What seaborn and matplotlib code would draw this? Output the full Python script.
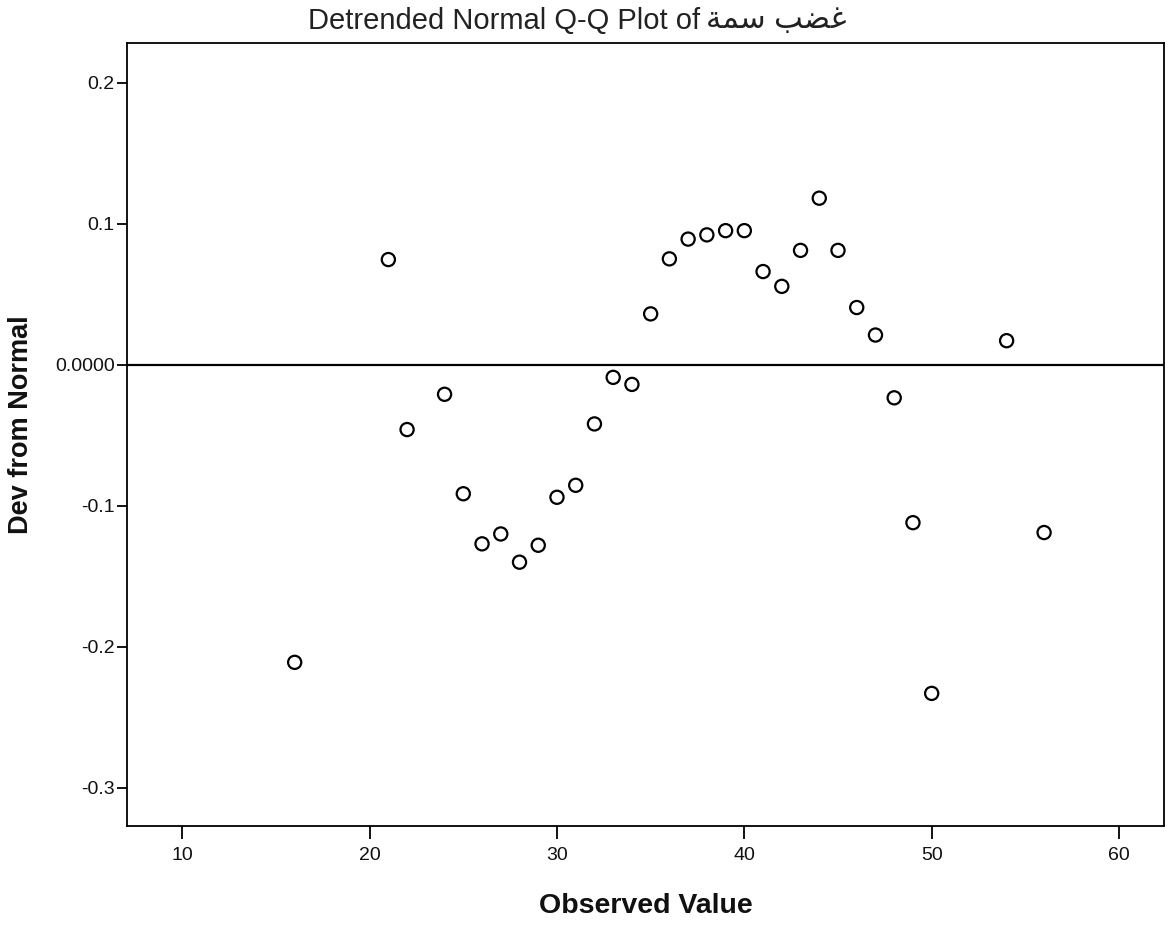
import matplotlib
matplotlib.use("Agg")
import matplotlib.pyplot as plt
import seaborn as sns
import pandas as pd

# Data
observed = [16, 21, 22, 24, 25, 26, 27, 28, 29, 30, 31, 32, 33, 34, 35, 36,
            37, 38, 39, 40, 41, 42, 43, 44, 45, 46, 47, 48, 49, 50, 54, 56]
dev_from_normal = [-0.211, 0.0745, -0.046, -0.021, -0.0915, -0.127, -0.120, -0.140,
                   -0.128, -0.094, -0.0855, -0.042, -0.009, -0.014, 0.036, 0.075,
                   0.089, 0.092, 0.095, 0.095, 0.066, 0.0555, 0.081, 0.118,
                   0.081, 0.0405, 0.021, -0.0235, -0.112, -0.233, 0.017, -0.119]
x_ticks = [10, 20, 30, 40, 50, 60]
x_tick_labels = ["10", "20", "30", "40", "50", "60"]
y_ticks = [0.2, 0.1, 0.0, -0.1, -0.2, -0.3]
y_tick_labels = ["0.2", "0.1", "0.0000", "-0.1", "-0.2", "-0.3"]

title_latin = "Detrended Normal Q-Q Plot of"
# Arabic "غضب سمة" written in visual order with presentation forms so it renders joined RTL
title_arabic = "\uFE94\uFEE4\uFEB3 \uFE90\uFEC0\uFECF"
x_label = "Observed Value"
y_label = "Dev from Normal"

df = pd.DataFrame({"Observed Value": observed, "Dev from Normal": dev_from_normal})

sns.set_theme(style="white")
plt.rcParams["font.family"] = ["Liberation Sans", "DejaVu Sans"]

fig = plt.figure(figsize=(11.76, 9.26), dpi=100)
ax = fig.add_axes([127 / 1176, 1 - 826 / 926, (1164 - 127) / 1176, (826 - 43) / 926])

ax.axhline(0, color="black", lw=1.6, zorder=1)
sns.scatterplot(data=df, x="Observed Value", y="Dev from Normal", ax=ax,
                marker="o", s=90, facecolor="none", edgecolor="black",
                linewidth=1.6, zorder=3)

ax.set_xlim(7.05, 62.4)
ax.set_ylim(-0.327, 0.228)
ax.set_xticks(x_ticks, labels=x_tick_labels)
ax.set_yticks(y_ticks, labels=y_tick_labels)

for sp in ax.spines.values():
    sp.set_visible(True)
    sp.set_color("black")
    sp.set_linewidth(1.3)

ax.tick_params(axis="x", which="both", direction="out", length=9, width=1.3,
               color="black", labelsize=14, pad=6, bottom=True, top=False,
               labelcolor="#111111")
ax.tick_params(axis="y", which="both", direction="out", length=7, width=1.3,
               color="black", labelsize=14, pad=2, left=True, right=False,
               labelcolor="#111111")

ax.set_xlabel(x_label, fontsize=20.5, fontweight="bold", labelpad=21, color="#111111")
ax.set_ylabel(y_label, fontsize=19.5, fontweight="bold", color="#111111")
ax.yaxis.set_label_coords(-(127 - 34) / 1037, (826 - 425) / 783)

fig.text(700 / 1176, 1 - 21 / 926, title_latin,
         ha="right", va="center", fontsize=21, color="#222222")
fig.text(706 / 1176, 1 - 20 / 926, title_arabic,
         ha="left", va="center", fontsize=22, color="#222222")

fig.savefig("out.png", dpi=100, facecolor="white")
